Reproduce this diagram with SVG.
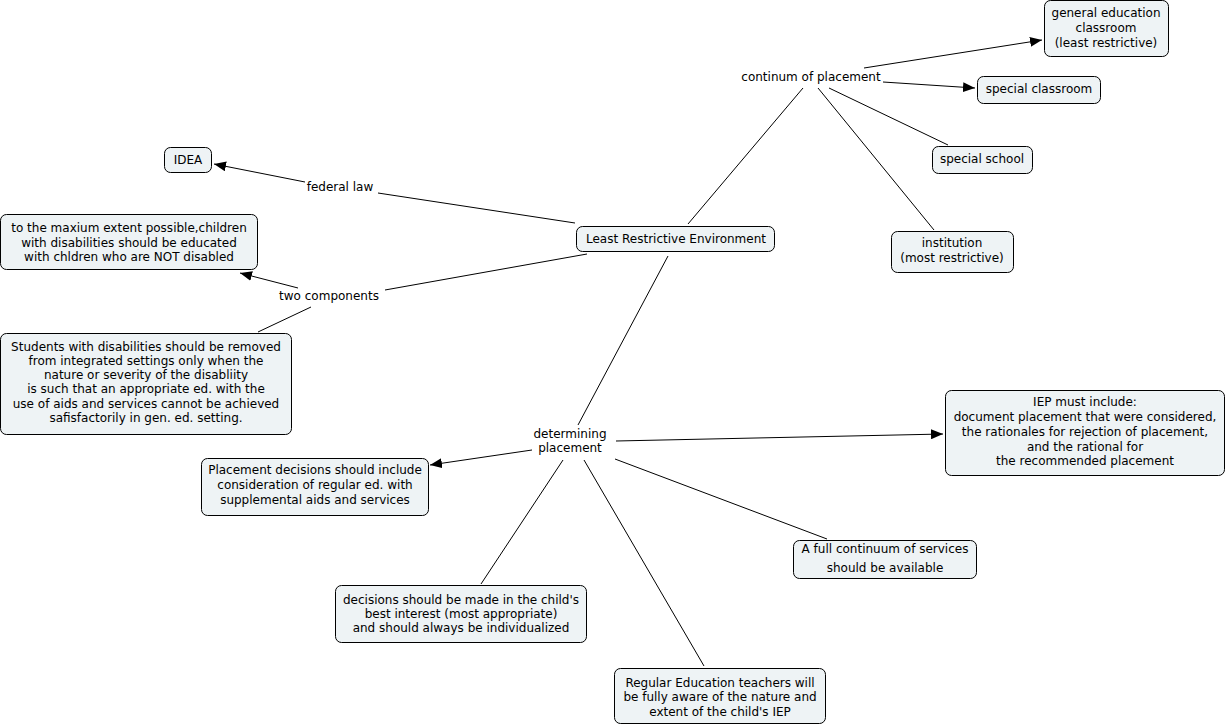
<svg xmlns="http://www.w3.org/2000/svg" width="1226" height="727" viewBox="0 0 1226 727">
<style>
.n rect{fill:#eef3f5;stroke:#000;stroke-width:1}
text{font-family:"DejaVu Sans","Liberation Sans",sans-serif;font-size:12px;fill:#000;text-anchor:middle;dominant-baseline:central}
.c line{stroke:#000;stroke-width:1}
.a{marker-end:url(#ah)}
</style>
<defs>
<marker id="ah" viewBox="0 0 12 10" refX="12" refY="5" markerWidth="12" markerHeight="10" markerUnits="userSpaceOnUse" orient="auto">
<path d="M0,0 L12,5 L0,10 z" fill="#000"/>
</marker>
</defs>
<rect width="1226" height="727" fill="#fff"/>
<g class="c">
<line x1="688" y1="224" x2="803" y2="88"/>
<line class="a" x1="864" y1="68" x2="1042" y2="40"/>
<line class="a" x1="883" y1="82" x2="975" y2="88"/>
<line x1="829" y1="88" x2="948" y2="145"/>
<line x1="818" y1="88" x2="934" y2="230"/>
<line x1="575" y1="223" x2="378" y2="193"/>
<line class="a" x1="305" y1="182" x2="214" y2="164"/>
<line x1="587" y1="254" x2="385" y2="290"/>
<line class="a" x1="298" y1="288" x2="240" y2="273"/>
<line x1="311" y1="307" x2="258" y2="332"/>
<line x1="668" y1="256" x2="578" y2="425"/>
<line class="a" x1="616" y1="441" x2="943" y2="434"/>
<line class="a" x1="532" y1="450" x2="430" y2="465"/>
<line x1="615" y1="459" x2="827" y2="539"/>
<line x1="563" y1="460" x2="481" y2="584"/>
<line x1="584" y1="460" x2="704" y2="666"/>
</g>
<g id="lbl-continum"><text x="811" y="77">continum of placement</text></g>
<g id="lbl-federal"><text x="340" y="187">federal law</text></g>
<g id="lbl-two"><text x="329" y="296">two components</text></g>
<g id="lbl-determining"><text x="570" y="434">determining</text><text x="570" y="448">placement</text></g>
<g id="lre" class="n"><rect x="576.5" y="226.5" width="198" height="25" rx="6"/><text x="676" y="239">Least Restrictive Environment</text></g>
<g id="gened" class="n"><rect x="1044.5" y="0.5" width="124" height="56" rx="6"/><text x="1106" y="13">general education</text><text x="1106" y="28">classroom</text><text x="1106" y="43">(least restrictive)</text></g>
<g id="specclass" class="n"><rect x="977.5" y="76.5" width="123" height="27" rx="6"/><text x="1039" y="89">special classroom</text></g>
<g id="specschool" class="n"><rect x="932.5" y="146.5" width="100" height="27" rx="6"/><text x="982" y="159">special school</text></g>
<g id="institution" class="n"><rect x="891.5" y="231.5" width="122" height="41" rx="6"/><text x="952" y="243">institution</text><text x="952" y="258">(most restrictive)</text></g>
<g id="idea" class="n"><rect x="164.5" y="147.5" width="47" height="25" rx="6"/><text x="188" y="160">IDEA</text></g>
<g id="maxium" class="n"><rect x="0.5" y="214.5" width="257" height="55" rx="6"/><text x="129" y="228">to the maxium extent possible,children</text><text x="129" y="243">with disabilities should be educated</text><text x="129" y="257">with chldren who are NOT disabled</text></g>
<g id="students" class="n"><rect x="0.5" y="333.5" width="291" height="101" rx="6"/><text x="146" y="347">Students with disabilities should be removed</text><text x="146" y="361">from integrated settings only when the</text><text x="146" y="375">nature or severity of the disabliity</text><text x="146" y="389">is such that an appropriate ed. with the</text><text x="146" y="404">use of aids and services cannot be achieved</text><text x="146" y="418">safisfactorily in gen. ed. setting.</text></g>
<g id="iep" class="n"><rect x="945.5" y="390.5" width="279" height="85" rx="6"/><text x="1085" y="402">IEP must include:</text><text x="1085" y="417">document placement that were considered,</text><text x="1085" y="432">the rationales for rejection of placement,</text><text x="1085" y="447">and the rational for</text><text x="1085" y="461">the recommended placement</text></g>
<g id="placement" class="n"><rect x="201.5" y="458.5" width="227" height="57" rx="6"/><text x="315" y="470">Placement decisions should include</text><text x="315" y="485">consideration of regular ed. with</text><text x="315" y="500">supplemental aids and services</text></g>
<g id="fullcont" class="n"><rect x="793.5" y="540.5" width="183" height="38" rx="6"/><text x="885" y="549">A full continuum of services</text><text x="885" y="568">should be available</text></g>
<g id="decisions" class="n"><rect x="335.5" y="585.5" width="251" height="57" rx="6"/><text x="461" y="600">decisions should be made in the child's</text><text x="461" y="614">best interest (most appropriate)</text><text x="461" y="628">and should always be individualized</text></g>
<g id="regular" class="n"><rect x="614.5" y="668.5" width="211" height="55" rx="6"/><text x="720" y="683">Regular Education teachers will</text><text x="720" y="697">be fully aware of the nature and</text><text x="720" y="712">extent of the child's IEP</text></g>
</svg>
